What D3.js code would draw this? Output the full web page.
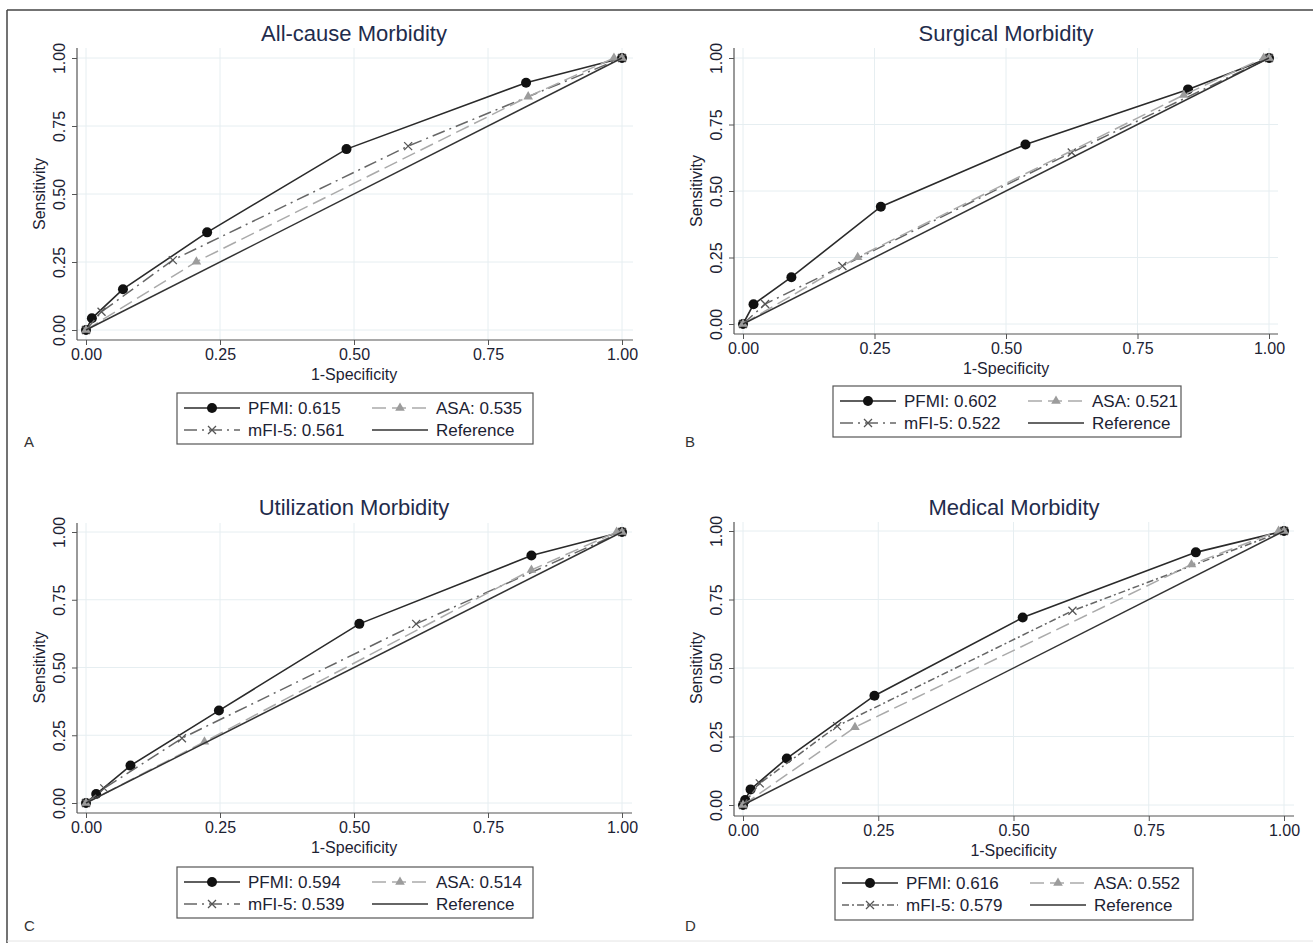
<!DOCTYPE html>
<html>
<head>
<meta charset="utf-8">
<script src="https://cdn.jsdelivr.net/npm/d3@7"></script>
<style>
  body { margin: 0; background: #fff; }
  svg { font-family: "Liberation Sans", Arial, sans-serif; }
</style>
</head>
<body>
<div id="chart"></div>
<script>
// ---- data ----
var titles = ["All-cause Morbidity", "Surgical Morbidity", "Utilization Morbidity", "Medical Morbidity"];
var letters = ["A", "B", "C", "D"];
var tickVals = [0, 0.25, 0.5, 0.75, 1];

var aucPFMI = ["0.615", "0.602", "0.594", "0.616"];
var aucMFI = ["0.561", "0.522", "0.539", "0.579"];
var aucASA = ["0.535", "0.521", "0.514", "0.552"];

// [1-specificity, sensitivity]
var pfmiA = [[0,0],[0.011,0.043],[0.069,0.150],[0.226,0.359],[0.486,0.665],[0.821,0.909],[1,1]];
var mfiA  = [[0,0],[0.029,0.067],[0.162,0.257],[0.601,0.676],[1,1]];
var asaA  = [[0,0],[0.206,0.251],[0.825,0.858],[0.985,1],[1,1]];

var pfmiB = [[0,0],[0.020,0.074],[0.092,0.176],[0.262,0.441],[0.537,0.675],[0.846,0.882],[1,1]];
var mfiB  = [[0,0],[0.042,0.075],[0.189,0.218],[0.625,0.645],[1,1]];
var asaB  = [[0,0],[0.218,0.251],[0.838,0.861],[0.99,1],[1,1]];

var pfmiC = [[0,0],[0.019,0.033],[0.083,0.138],[0.248,0.341],[0.510,0.661],[0.831,0.913],[1,1]];
var mfiC  = [[0,0],[0.034,0.054],[0.179,0.239],[0.616,0.661],[1,1]];
var asaC  = [[0,0],[0.221,0.226],[0.831,0.860],[0.99,1],[1,1]];

var pfmiD = [[0,0],[0.004,0.018],[0.014,0.057],[0.081,0.170],[0.243,0.399],[0.517,0.684],[0.837,0.922],[1,1]];
var mfiD  = [[0,0],[0.031,0.079],[0.174,0.288],[0.609,0.709],[1,1]];
var asaD  = [[0,0],[0.207,0.284],[0.829,0.878],[0.99,1],[1,1]];

var refLine = [[0,0],[1,1]];

// ---- panel layout (pixels) ----
var layout = [
  {x0: 86, x1: 622, y0: 330, y1: 58, axX: 77, axY: 340, top: 48, right: 633, tx: 354, ty: 41, lx: 177, ly: 393, lw: 356, lh: 51, letter: [24, 447], mfiDash: "13,5,2,5"},
  {x0: 743, x1: 1269, y0: 324, y1: 58, axX: 734, axY: 334, top: 48, right: 1278, tx: 1006, ty: 41, lx: 833, ly: 386, lw: 348, lh: 51, letter: [685, 447], mfiDash: "13,5,2,5"},
  {x0: 86, x1: 622, y0: 803, y1: 532, axX: 77, axY: 813, top: 523, right: 632, tx: 354, ty: 515, lx: 177, ly: 867, lw: 356, lh: 51, letter: [24, 931], mfiDash: "13,5,2,5"},
  {x0: 743, x1: 1284, y0: 805, y1: 531, axX: 734, axY: 816, top: 522, right: 1294, tx: 1014, ty: 515, lx: 835, ly: 868, lw: 358, lh: 52, letter: [685, 931], mfiDash: "7,3,2,3"}
];

var series = [
  {pfmi: pfmiA, mfi: mfiA, asa: asaA},
  {pfmi: pfmiB, mfi: mfiB, asa: asaB},
  {pfmi: pfmiC, mfi: mfiC, asa: asaC},
  {pfmi: pfmiD, mfi: mfiD, asa: asaD}
];

var W = 1313, H = 943;
var svg = d3.select("#chart").append("svg")
  .attr("width", W)
  .attr("height", H);

// outer frame
svg.append("line").attr("x1", 7).attr("x2", W).attr("y1", 10).attr("y2", 10)
  .attr("stroke", "#444").attr("stroke-width", 1.5);
svg.append("line").attr("x1", 7).attr("x2", 7).attr("y1", 10).attr("y2", H)
  .attr("stroke", "#444").attr("stroke-width", 1.5);
svg.append("line").attr("x1", 7).attr("x2", W).attr("y1", 941).attr("y2", 941)
  .attr("stroke", "#e4e4e4").attr("stroke-width", 1);

var cPFMI = "#2a2a2a", cMFI = "#666", cASA = "#aaa", cRef = "#333";

function cross(g, x, y, s) {
  g.append("path")
    .attr("d", "M" + (x - s) + "," + (y - s) + "L" + (x + s) + "," + (y + s) +
               "M" + (x - s) + "," + (y + s) + "L" + (x + s) + "," + (y - s))
    .attr("stroke", "#555").attr("stroke-width", 1.3).attr("fill", "none");
}
var triSym = d3.symbol().type(d3.symbolTriangle).size(40);

function drawPanel(i) {
  var L = layout[i], S = series[i];
  var g = svg.append("g");

  var x = d3.scaleLinear().domain([0, 1]).range([L.x0, L.x1]);
  var y = d3.scaleLinear().domain([0, 1]).range([L.y0, L.y1]);

  // grid
  g.append("g").selectAll("line.v").data(tickVals).enter().append("line")
    .attr("x1", function(d) { return x(d); }).attr("x2", function(d) { return x(d); })
    .attr("y1", L.top).attr("y2", L.axY)
    .attr("stroke", "#e6eef1").attr("stroke-width", 1);
  g.append("g").selectAll("line.h").data(tickVals).enter().append("line")
    .attr("y1", function(d) { return y(d); }).attr("y2", function(d) { return y(d); })
    .attr("x1", L.axX).attr("x2", L.right)
    .attr("stroke", "#e6eef1").attr("stroke-width", 1);

  // axes
  var xa = g.append("g")
    .attr("transform", "translate(0," + L.axY + ")")
    .call(d3.axisBottom(x).tickValues(tickVals).tickFormat(d3.format(".2f")).tickSize(5).tickSizeOuter(0));
  xa.select(".domain").remove();
  xa.selectAll("line").attr("stroke", "#555");
  xa.selectAll("text").attr("font-size", 16).attr("fill", "#1c2233")
    .attr("font-family", "Liberation Sans, Arial, sans-serif").attr("y", 9).attr("dy", "0.71em");

  var ya = g.append("g")
    .attr("transform", "translate(" + L.axX + ",0)")
    .call(d3.axisLeft(y).tickValues(tickVals).tickFormat(d3.format(".2f")).tickSize(5).tickSizeOuter(0));
  ya.select(".domain").remove();
  ya.selectAll("line").attr("stroke", "#555");
  ya.selectAll("text")
    .attr("font-size", 16).attr("fill", "#1c2233")
    .attr("font-family", "Liberation Sans, Arial, sans-serif")
    .attr("transform", "rotate(-90)")
    .attr("x", 0).attr("y", -12).attr("dy", 0)
    .style("text-anchor", "middle");

  g.append("line").attr("x1", L.axX).attr("x2", L.axX).attr("y1", L.top).attr("y2", L.axY)
    .attr("stroke", "#555").attr("stroke-width", 1.2);
  g.append("line").attr("x1", L.axX).attr("x2", L.right).attr("y1", L.axY).attr("y2", L.axY)
    .attr("stroke", "#555").attr("stroke-width", 1.2);

  // labels
  g.append("text").attr("x", L.tx).attr("y", L.ty).attr("text-anchor", "middle")
    .attr("font-size", 22).attr("fill", "#1f2c4c").text(titles[i]);
  g.append("text").attr("x", (L.x0 + L.x1) / 2).attr("y", L.axY + 40).attr("text-anchor", "middle")
    .attr("font-size", 16).attr("fill", "#1c2233").text("1-Specificity");
  g.append("text")
    .attr("transform", "translate(" + (L.axX - 32) + "," + ((L.y0 + L.y1) / 2) + ") rotate(-90)")
    .attr("text-anchor", "middle").attr("font-size", 16).attr("fill", "#1c2233").text("Sensitivity");
  g.append("text").attr("x", L.letter[0]).attr("y", L.letter[1])
    .attr("font-size", 15).attr("fill", "#333").text(letters[i]);

  var line = d3.line().x(function(d) { return x(d[0]); }).y(function(d) { return y(d[1]); });

  // PFMI
  g.append("path").datum(S.pfmi).attr("d", line).attr("fill", "none")
    .attr("stroke", cPFMI).attr("stroke-width", 1.6);
  g.append("g").selectAll("circle").data(S.pfmi).enter().append("circle")
    .attr("cx", function(d) { return x(d[0]); }).attr("cy", function(d) { return y(d[1]); })
    .attr("r", 5).attr("fill", "#111");

  // mFI-5
  g.append("path").datum(S.mfi).attr("d", line).attr("fill", "none")
    .attr("stroke", cMFI).attr("stroke-width", 1.5).attr("stroke-dasharray", L.mfiDash);
  S.mfi.forEach(function(d) { cross(g, x(d[0]), y(d[1]), 4); });

  // ASA
  g.append("path").datum(S.asa).attr("d", line).attr("fill", "none")
    .attr("stroke", cASA).attr("stroke-width", 1.5).attr("stroke-dasharray", "14,6");
  g.append("g").selectAll("path").data(S.asa).enter().append("path")
    .attr("d", triSym)
    .attr("transform", function(d) { return "translate(" + x(d[0]) + "," + y(d[1]) + ")"; })
    .attr("fill", "#9c9c9c");

  // Reference
  g.append("path").datum(refLine).attr("d", line).attr("fill", "none")
    .attr("stroke", cRef).attr("stroke-width", 1.5);

  // legend
  var lg = g.append("g").attr("transform", "translate(" + L.lx + "," + L.ly + ")");
  lg.append("rect").attr("width", L.lw).attr("height", L.lh)
    .attr("fill", "#fff").attr("stroke", "#555").attr("stroke-width", 1.2);
  var r1 = 15, r2 = 37, c1 = 7, c2 = 195, sw = 56;
  // row 1
  lg.append("line").attr("x1", c1).attr("x2", c1 + sw).attr("y1", r1).attr("y2", r1)
    .attr("stroke", cPFMI).attr("stroke-width", 1.6);
  lg.append("circle").attr("cx", c1 + sw / 2).attr("cy", r1).attr("r", 5).attr("fill", "#111");
  lg.append("text").attr("x", c1 + sw + 8).attr("y", r1 + 6).attr("font-size", 17).attr("fill", "#1c2233")
    .text("PFMI: " + aucPFMI[i]);
  lg.append("line").attr("x1", c2).attr("x2", c2 + sw).attr("y1", r1).attr("y2", r1)
    .attr("stroke", cASA).attr("stroke-width", 1.5).attr("stroke-dasharray", "14,6");
  lg.append("path").attr("d", triSym).attr("transform", "translate(" + (c2 + sw / 2) + "," + r1 + ")")
    .attr("fill", "#9c9c9c");
  lg.append("text").attr("x", c2 + sw + 8).attr("y", r1 + 6).attr("font-size", 17).attr("fill", "#1c2233")
    .text("ASA: " + aucASA[i]);
  // row 2
  lg.append("line").attr("x1", c1).attr("x2", c1 + sw).attr("y1", r2).attr("y2", r2)
    .attr("stroke", cMFI).attr("stroke-width", 1.5).attr("stroke-dasharray", L.mfiDash);
  cross(lg, c1 + sw / 2, r2, 4);
  lg.append("text").attr("x", c1 + sw + 8).attr("y", r2 + 6).attr("font-size", 17).attr("fill", "#1c2233")
    .text("mFI-5: " + aucMFI[i]);
  lg.append("line").attr("x1", c2).attr("x2", c2 + sw).attr("y1", r2).attr("y2", r2)
    .attr("stroke", cRef).attr("stroke-width", 1.5);
  lg.append("text").attr("x", c2 + sw + 8).attr("y", r2 + 6).attr("font-size", 17).attr("fill", "#1c2233")
    .text("Reference");
}

for (var i = 0; i < 4; i++) drawPanel(i);
</script>
</body>
</html>
